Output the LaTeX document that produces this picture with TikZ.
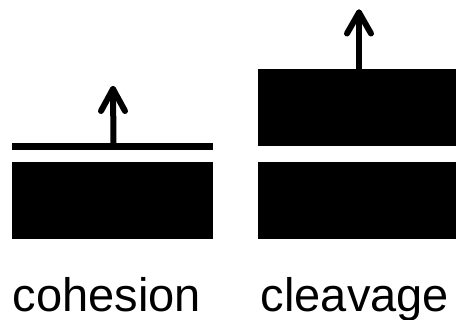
\documentclass[tikz,border=0pt]{standalone}
\usepackage{fontspec}
\setmainfont{Liberation Sans}
\usetikzlibrary{calc}
\begin{document}
\begin{tikzpicture}[x=1pt,y=1pt,
  slab/.style={fill=black,draw=none,inner sep=0,outer sep=0,rectangle},
  pull/.style={line width=6pt,line cap=round,line join=round},
  lbl/.style={anchor=base,inner sep=0,text depth=0pt,font=\fontsize{47}{56}\selectfont}]
\useasboundingbox (0,0) rectangle (456,320);
% cohesion
\node[slab,minimum width=201pt,minimum height=7pt,anchor=south west] (film) at (12,169.5) {};
\node[slab,minimum width=201pt,minimum height=77pt,anchor=south west] (baseL) at (12,81) {};
\coordinate (tipL) at (113,231);
\draw[pull] (film.north) ++(1,0) -- (tipL);
\draw[pull] ($(tipL)+(-12,-22)$) -- (tipL) -- ($(tipL)+(12,-22)$);
% cleavage
\node[slab,minimum width=198pt,minimum height=76.5pt,anchor=south west] (topR) at (258,174) {};
\node[slab,minimum width=198pt,minimum height=77pt,anchor=south west] (baseR) at (258,81) {};
\coordinate (tipR) at (359,307.5);
\draw[pull] (359,250) -- (tipR);
\draw[pull] ($(tipR)+(-12,-21)$) -- (tipR) -- ($(tipR)+(12,-21)$);
% labels
\node[lbl] (tcoh) at (107,8.5) {cohesion};
\node[lbl] (tclv) at (355,8.5) {cleavage};
\end{tikzpicture}
\end{document}
